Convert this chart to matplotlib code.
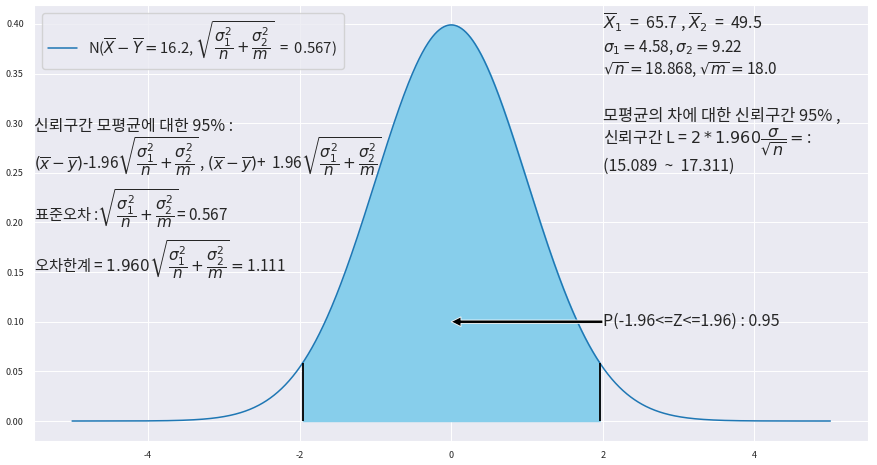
import numpy as np
import matplotlib
matplotlib.use("Agg")
import matplotlib.pyplot as plt
import seaborn as sns

# ---- data / parameters ----
x_min, x_max = -5, 5
mu, sd = 0.0, 1.0
z_crit = 1.96
x_ticks = [-4, -2, 0, 2, 4]
y_ticks = [0.00, 0.05, 0.10, 0.15, 0.20, 0.25, 0.30, 0.35, 0.40]
mean_diff = 16.2
std_err = 0.567
margin_err = 1.111
x1_bar, x2_bar = 65.7, 49.5
sigma1, sigma2 = 4.58, 9.22
sqrt_n, sqrt_m = 18.868, 18.0
ci_low, ci_high = 15.089, 17.311
prob = 0.95

sns.set_style("darkgrid")
plt.rcParams['font.family'] = ['Noto Sans CJK KR', 'DejaVu Sans']
plt.rcParams['axes.unicode_minus'] = False

x = np.linspace(x_min, x_max, 1000)
pdf = np.exp(-0.5 * ((x - mu) / sd) ** 2) / (sd * np.sqrt(2 * np.pi))
pdf_z = np.exp(-0.5 * (z_crit / sd) ** 2) / (sd * np.sqrt(2 * np.pi))

fig, ax = plt.subplots(figsize=(8.77, 4.65), dpi=100)
fig.subplots_adjust(left=0.039, right=0.99, top=0.989, bottom=0.052)

frac = r'\sqrt{\dfrac{\sigma_1^2}{n}+\dfrac{\sigma_2^2}{m}}'
label = r'N($\overline{X}-\overline{Y} = $' + f'{mean_diff},' + r' $' + frac + r'$  =  ' + f'{std_err})'
ax.plot(x, pdf, color='#1f77b4', lw=1.1, label=label)
mask = (x >= -z_crit) & (x <= z_crit)
ax.fill_between(x[mask], pdf[mask], color='#87CEEB')
ax.vlines([-z_crit, z_crit], 0, pdf_z, color='black', lw=1.3)

ax.set_xticks(x_ticks)
ax.set_yticks(y_ticks)
ax.set_yticklabels([f'{v:.2f}' for v in y_ticks])
ax.tick_params(labelsize=6.5, pad=4)
ax.grid(lw=0.7)

leg = ax.legend(loc='upper left', fontsize=10.7, borderpad=0.45, handlelength=1.9)

fs = 11.5   # plain text lines
fm = 11     # math-heavy lines
# left block
ax.text(-5.5, 0.292, f'신뢰구간 모평균에 대한 {int(prob*100)}% :', fontsize=fs)
ax.text(-5.5, 0.254, r'$(\overline{x}-\overline{y})$-' + f'{z_crit}' + r'$' + frac + r'$ , $(\overline{x}-\overline{y})$+  ' + f'{z_crit}' + r'$' + frac + r'$', fontsize=fm)
ax.text(-5.5, 0.2015, r'표준오차 :$' + frac + r'$= ' + f'{std_err}', fontsize=fm)
ax.text(-5.5, 0.150, r'오차한계 = $' + f'{z_crit:.3f}' + frac + r'=$' + f'{margin_err}', fontsize=fm)

# right block
ax.text(2.0, 0.395, r'$\overline{X}_1$  =  ' + f'{x1_bar} , ' + r'$\overline{X}_2$  =  ' + f'{x2_bar}', fontsize=fs)
ax.text(2.0, 0.372, r'$\sigma_1 = $' + f'{sigma1}, ' + r'$\sigma_2 = $' + f'{sigma2}', fontsize=fm)
ax.text(2.0, 0.350, r'$\sqrt{n} = $' + f'{sqrt_n}, ' + r'$\sqrt{m} = $' + f'{sqrt_m}', fontsize=fm)
ax.text(2.0, 0.302, f'모평균의 차에 대한 신뢰구간 {int(prob*100)}% ,', fontsize=fs + 0.3)
ax.text(2.0, 0.279, r'신뢰구간 L = $2*' + f'{z_crit:.3f}' + r'\dfrac{\sigma}{\sqrt{n}} = $:', fontsize=fs)
ax.text(2.0, 0.252, f'({ci_low}  ~  {ci_high})', fontsize=fs)

ax.annotate('', xy=(0, 0.1), xytext=(2.0, 0.1),
            arrowprops=dict(facecolor='black', edgecolor='white', shrink=0.0,
                            width=2.4, headwidth=7, headlength=7, lw=0.6))
ax.text(2.0, 0.1, f'P(-{z_crit}<=Z<={z_crit}) : {prob}', fontsize=fs, va='center')

fig.savefig('out.png', dpi=100)
